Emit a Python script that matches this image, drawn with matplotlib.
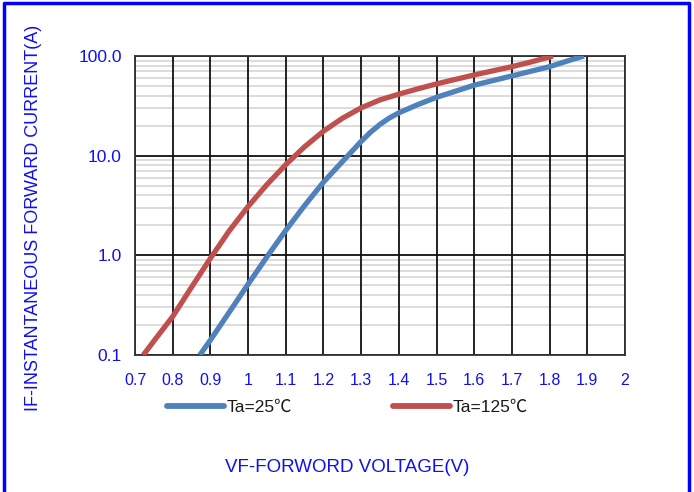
import numpy as np
from matplotlib import pyplot as plt
from matplotlib.lines import Line2D
from matplotlib.ticker import FixedLocator, NullFormatter

# forward voltage (V) / current (A)
vf_25 = [0.872, 0.90, 0.95, 1.00, 1.05, 1.10, 1.15, 1.20, 1.25, 1.30, 1.325,
         1.35, 1.375, 1.40, 1.45, 1.50, 1.60, 1.70, 1.80, 1.85, 1.891]
if_25 = [0.1, 0.141, 0.269, 0.513, 0.966, 1.78, 3.16, 5.43, 8.7, 13.9, 17.2,
         20.6, 23.9, 26.9, 32.5, 38.5, 51.0, 63.1, 78.2, 89.8, 100.0]

vf_125 = [0.722, 0.75, 0.80, 0.85, 0.90, 0.95, 1.00, 1.05, 1.10, 1.15, 1.20,
          1.25, 1.30, 1.35, 1.40, 1.45, 1.50, 1.60, 1.70, 1.75, 1.809]
if_125 = [0.1, 0.138, 0.243, 0.479, 0.933, 1.76, 3.09, 5.13, 8.13, 12.3, 17.6,
          23.7, 30.2, 36.3, 41.4, 46.8, 52.5, 64.6, 78.2, 87.0, 100.0]

x_ticks = [0.7, 0.8, 0.9, 1.0, 1.1, 1.2, 1.3, 1.4, 1.5, 1.6, 1.7, 1.8, 1.9, 2.0]
x_labels = ['0.7', '0.8', '0.9', '1', '1.1', '1.2', '1.3', '1.4', '1.5', '1.6',
            '1.7', '1.8', '1.9', '2']
y_ticks = [0.1, 1.0, 10.0, 100.0]
y_labels = ['0.1', '1.0', '10.0', '100.0']

fonts = ['Liberation Sans', 'Noto Sans CJK SC', 'DejaVu Sans']
plt.rcParams['font.family'] = fonts
tick_blue = '#1010F0'

fig = plt.figure(figsize=(6.94, 4.92), dpi=100)
ax = fig.add_axes([135 / 694, 1 - 355 / 492, 490 / 694, 299 / 492])

ax.set_yscale('log')
ax.set_xlim(0.7, 2.0)
ax.set_ylim(0.1, 100)

minor = [m * 10.0 ** e for e in (-1, 0, 1) for m in range(2, 10)]
ax.yaxis.set_minor_locator(FixedLocator(minor))
ax.yaxis.set_minor_formatter(NullFormatter())
ax.grid(which='minor', axis='y', color='#d9d9d9', linewidth=1.3)
# major grid drawn by hand so it sits on top of the grey minor lines
for xv in x_ticks:
    ax.axvline(xv, color='#111111', linewidth=1.3, zorder=1.5)
for yv in y_ticks:
    ax.axhline(yv, color='#111111', linewidth=1.3, zorder=1.5)
ax.set_axisbelow(True)

ax.plot(vf_25, if_25, color='#4f81bd', linewidth=3.8, solid_capstyle='butt',
        solid_joinstyle='round', label='Ta=25℃', zorder=3)
ax.plot(vf_125, if_125, color='#c0504d', linewidth=3.8, solid_capstyle='butt',
        solid_joinstyle='round', label='Ta=125℃', zorder=3)

ax.set_xticks(x_ticks)
ax.set_xticklabels(x_labels)
ax.set_yticks(y_ticks)
ax.set_yticklabels(y_labels)
ax.tick_params(which='both', length=0, labelcolor=tick_blue)
ax.tick_params(axis='x', pad=13, labelsize=11.5)
ax.tick_params(axis='y', pad=9.5, labelsize=12.5)
for s in ax.spines.values():
    s.set_color('#333333')
    s.set_linewidth(1.3)
    s.set_zorder(2)

fig.text(34 / 694, 1 - 218 / 492, 'IF-INSTANTANEOUS FORWARD CURRENT(A)',
         rotation=90, ha='center', va='center', color=tick_blue, fontsize=13)
fig.text(347 / 694, 1 - 467 / 492, 'VF-FORWORD VOLTAGE(V)',
         ha='center', va='center', color=tick_blue, fontsize=13.5)

leg = fig.legend(loc='center left', bbox_to_anchor=(151 / 694, 1 - 407 / 492),
                 ncol=2, frameon=False, fontsize=12.5, handlelength=3.3,
                 handletextpad=0.15, columnspacing=5.8)
for t in leg.get_texts():
    t.set_color('#1a1a1a')
for h in leg.legend_handles:
    h.set_linewidth(4.2)
    h.set_solid_capstyle('round')

# blue frame round the picture
fig.add_artist(Line2D([3.5 / 694, 3.5 / 694, 688.5 / 694, 688.5 / 694],
                      [-0.01, 1 - 2.5 / 492, 1 - 2.5 / 492, -0.01],
                      color='#0000ff', linewidth=2.5, transform=fig.transFigure))

fig.savefig('out.png', dpi=100)
